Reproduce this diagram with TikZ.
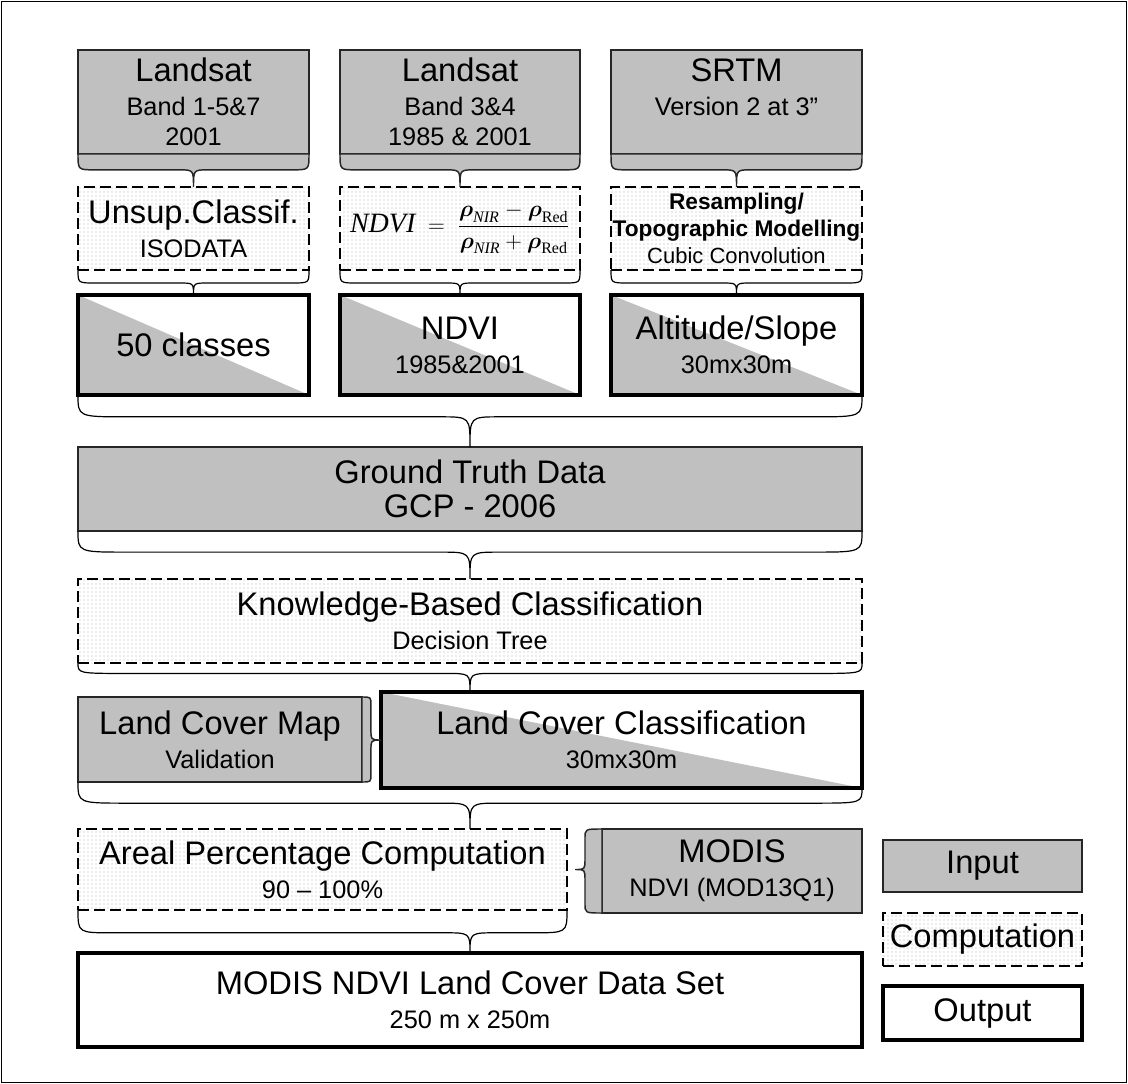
\documentclass[tikz,border=0pt]{standalone}
\usepackage[no-math]{fontspec}
\setmainfont{Liberation Sans}
\newfontfamily\timesf{Liberation Serif}
\usepackage{amsmath}
\usetikzlibrary{calc,patterns}
\definecolor{inpgray}{RGB}{192,192,192}
\newcommand\fbig{\fontsize{24.5}{25.5}\selectfont}
\newcommand\fsml{\fontsize{19}{22}\selectfont}
\newcommand\fsmr{\fontsize{16.5}{19}\selectfont}
% box node from corners: [extra] style x1 y1 x2 y2 name, then {text};
\newcommand\bx[7][]{\node[#2,#1,minimum width={(#5-#3)*0.75pt},minimum height={(#6-#4)*0.75pt}] (#7) at ({(#3+#5)/2},{(#4+#6)/2})}
% horizontal brace: [style] start, end, tip, k, end radius, tip radius, closing
\newcommand\hbr[8][]{%
  \path[bracel,#1] let \p1=(#2), \p2=(#3), \p3=(#4), \p4=($(#2)!#5!(#4)$) in
  (\p1) .. controls (\x1,\y4) .. (\x1+#6,\y4) -- (\x3-#7,\y4)
  .. controls (\x3,\y4) .. (\p3) .. controls (\x3,\y4) .. (\x3+#7,\y4)
  -- (\x2-#6,\y4) .. controls (\x2,\y4) .. (\p2) #8;}
% vertical brace
\newcommand\vbr[8][]{%
  \path[bracel,#1] let \p1=(#2), \p2=(#3), \p3=(#4), \p4=($(#2)!#5!(#4)$) in
  (\p1) .. controls (\x4,\y1) .. (\x4,\y1-#6) -- (\x4,\y3+#7)
  .. controls (\x4,\y3) .. (\p3) .. controls (\x4,\y3) .. (\x4,\y3-#7)
  -- (\x4,\y2+#6) .. controls (\x4,\y2) .. (\p2) #8;}
\newcommand\tmi[1]{\text{\timesf\itshape #1}}
\newcommand\tmr[1]{\text{\timesf #1}}
\begin{document}
\begin{tikzpicture}[x=0.75pt,y=-0.75pt,
  box/.style={inner sep=0pt, outer sep=0pt, align=center, font=\fbig},
  inbox/.style={box, draw=black!85, line width=1.1pt, fill=inpgray},
  compbox/.style={box, draw=black, line width=1.7pt, dash pattern=on 8pt off 4pt,
    pattern=dots, pattern color=black!32},
  outbox/.style={box, draw=black, line width=2.6pt, fill=white,
    path picture={\fill[inpgray] (path picture bounding box.north west) --
      (path picture bounding box.south west) -- (path picture bounding box.south east) -- cycle;}},
  plainout/.style={box, draw=black, line width=2.6pt, fill=white},
  bracel/.style={draw=black, line width=0.9pt},
  inline/.style={draw=black!85, line width=1.1pt, fill=inpgray}]
\useasboundingbox (0,0) rectangle (1128,1084);
\draw[line width=0.8pt] (1.5,1.5) rectangle (1126.5,1082.5);

% inputs (top)
\bx{inbox}{78}{50}{309}{154}{l1} {Landsat\\{\fsml Band 1-5\&7}\\[-3pt]{\fsml 2001}};
\bx{inbox}{340}{50}{580}{154}{l2} {Landsat\\{\fsml Band 3\&4}\\[-3pt]{\fsml 1985 \& 2001}};
\bx{inbox}{611}{50}{862}{154}{srtm} {SRTM\\{\fsml Version 2 at 3”}\\[-3pt]{\fsml\phantom{2001}}};

% computations (top)
\bx{compbox}{78}{187}{309}{270}{c1} {Unsup.Classif.\\{\fsml ISODATA}};
\bx{compbox}{340}{187}{580}{270}{c2} {\fontsize{17.28}{20}\selectfont$\displaystyle \hbox{\fontsize{21}{24}\selectfont\timesf\itshape NDVI}\;=\;\frac{\boldsymbol{\rho}_{\tmi{NIR}}-\boldsymbol{\rho}_{\tmr{Red}}}{\boldsymbol{\rho}_{\tmi{NIR}}+\boldsymbol{\rho}_{\tmr{Red}}}$};
\bx[font=\fontsize{17}{20.5}\selectfont]{compbox}{611}{187}{862}{270}{c3} {\textbf{Resampling/}\\\textbf{Topographic Modelling}\\{\fsmr Cubic Convolution}};

% outputs (top)
\bx{outbox}{78}{295}{309}{395}{o1} {50 classes};
\bx{outbox}{340}{295}{580}{395}{o2} {NDVI\\{\fsml 1985\&2001}};
\bx{outbox}{611}{295}{862}{395}{o3} {Altitude/Slope\\{\fsml 30mx30m}};

% main column
\bx{inbox}{78}{447}{862}{531}{gt} {Ground Truth Data\\GCP - 2006};
\bx{compbox}{78}{579}{862}{663}{kb} {Knowledge-Based Classification\\{\fsml Decision Tree}};
\bx{inbox}{78}{697}{362}{782}{lcm} {Land Cover Map\\{\fsml Validation}};
\bx{outbox}{381}{692}{862}{788}{lcc} {Land Cover Classification\\{\fsml 30mx30m}};
\bx{compbox}{78}{829}{567}{910}{ap} {Areal Percentage Computation\\{\fsml 90 – 100\%}};
\bx{inbox}{602}{829}{862}{913}{mo} {MODIS\\{\fsml NDVI (MOD13Q1)}};
\bx{plainout}{78}{953}{862}{1047}{fin} {MODIS NDVI Land Cover Data Set\\{\fsml 250 m x 250m}};

% legend
\bx{inbox}{883}{840}{1082}{892}{lin} {Input};
\bx{compbox}{883}{913}{1082}{966}{lco} {Computation};
\bx{plainout}{883}{986}{1082}{1040}{lou} {Output};

% helper tips
\coordinate (t1) at (kb.south |- lcc.north);
\coordinate (t2) at (kb.south |- ap.north);
\coordinate (t3) at ($(ap.east)+(8,0)$);

% braces
\hbr[inline]{l1.south west}{l1.south east}{c1.north}{0.48}{12.5pt}{11pt}{-- cycle}
\hbr[inline]{l2.south west}{l2.south east}{c2.north}{0.48}{12.5pt}{11pt}{-- cycle}
\hbr[inline]{srtm.south west}{srtm.south east}{c3.north}{0.48}{12.5pt}{11pt}{-- cycle}
\hbr{c1.south west}{c1.south east}{o1.north}{0.52}{12.5pt}{11pt}{}
\hbr{c2.south west}{c2.south east}{o2.north}{0.52}{12.5pt}{11pt}{}
\hbr{c3.south west}{c3.south east}{o3.north}{0.52}{12.5pt}{11pt}{}
\hbr{o1.south west}{o3.south east}{gt.north}{0.42}{37pt}{22pt}{}
\hbr{gt.south west}{gt.south east}{kb.north}{0.44}{37pt}{22pt}{}
\hbr{kb.south west}{kb.south east}{t1}{0.36}{37pt}{18pt}{}
\hbr{lcm.south west}{lcc.south east}{t2}{0.45}{37pt}{22pt}{}
\hbr{ap.south west}{ap.south east}{fin.north}{0.53}{26pt}{20pt}{}
\vbr[inline]{lcm.north east}{lcm.south east}{lcc.west}{0.47}{6pt}{9pt}{-- cycle}
\vbr[inline]{mo.north west}{mo.south west}{t3}{0.63}{7pt}{8pt}{-- cycle}
\end{tikzpicture}
\end{document}
